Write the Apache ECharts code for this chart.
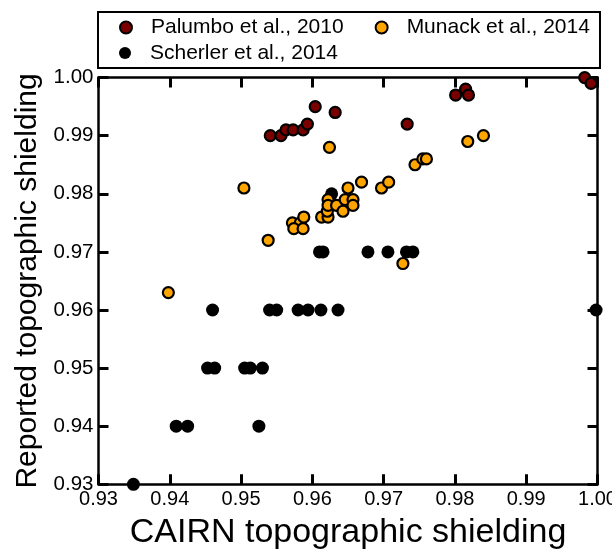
<!DOCTYPE html>
<html>
<head>
<meta charset="utf-8">
<script src="https://cdn.jsdelivr.net/npm/echarts@6/dist/echarts.min.js"></script>
<style>
html,body{margin:0;padding:0;background:#fff;}
#chart{width:612px;height:559px;}
</style>
</head>
<body>
<div id="chart"></div>
<script>
// ---- data ----
var seriesNames = ['Palumbo et al., 2010', 'Munack et al., 2014', 'Scherler et al., 2014'];

var palumbo = [[0.9541,0.990],[0.9556,0.990],[0.9563,0.991],[0.9573,0.991],[0.9587,0.991],[0.9593,0.992],
  [0.9604,0.995],[0.9632,0.994],[0.9733,0.992],[0.9801,0.997],[0.9815,0.998],[0.9819,0.997],
  [0.9982,1.000],[0.9991,0.999]];

var munack = [[0.9398,0.963],[0.9504,0.981],[0.9538,0.972],[0.9572,0.975],[0.9583,0.975],[0.9588,0.976],
  [0.9574,0.974],[0.9587,0.974],[0.9613,0.976],[0.9622,0.976],[0.9621,0.977],[0.9622,0.979],
  [0.9622,0.978],[0.9624,0.988],[0.9634,0.978],[0.9643,0.977],[0.9646,0.979],[0.9650,0.981],
  [0.9657,0.979],[0.9657,0.978],[0.9669,0.982],[0.9697,0.981],[0.9707,0.982],[0.9727,0.968],
  [0.9744,0.985],[0.9755,0.986],[0.9760,0.986],[0.9818,0.989],[0.9840,0.990]];

var scherler = [[0.9349,0.930],[0.9409,0.940],[0.9425,0.940],[0.9525,0.940],[0.9453,0.950],[0.9463,0.950],
  [0.9505,0.950],[0.9513,0.950],[0.9530,0.950],[0.9460,0.960],[0.9540,0.960],[0.9550,0.960],
  [0.9580,0.960],[0.9594,0.960],[0.9612,0.960],[0.9636,0.960],[0.9998,0.960],[0.9610,0.970],
  [0.9615,0.970],[0.9678,0.970],[0.9706,0.970],[0.9732,0.970],[0.9741,0.970],[0.9627,0.980]];

var axisMin = 0.93, axisMax = 1.00, axisStep = 0.01;
var xTitle = 'CAIRN topographic shielding';
var yTitle = 'Reported topographic shielding';

// ---- chart ----
var FONT = 'Liberation Sans';
var chart = echarts.init(document.getElementById('chart'));

function fmt(v) { return v.toFixed(2); }

function legendCfg(names, top, gap) {
  return {
    data: names, left: 119, top: top, orient: 'horizontal', padding: 0,
    itemWidth: 40, itemHeight: 12, itemGap: gap, icon: 'circle',
    textStyle: {fontFamily: FONT, fontSize: 21, color: '#000'}
  };
}

function axisCfg(extra) {
  var base = {
    type: 'value', min: axisMin, max: axisMax, interval: axisStep,
    axisLine: {show: true, lineStyle: {color: '#000', width: 2.5}},
    axisTick: {show: true, inside: true, length: 10, lineStyle: {color: '#000', width: 3}},
    splitLine: {show: false}
  };
  for (var k in extra) base[k] = extra[k];
  return base;
}

var option = {
  animation: false,
  grid: {left: 98.5, right: 14.5, top: 77.6, bottom: 74.7, outerBoundsMode: 'none'},
  legend: [
    legendCfg([seriesNames[0], seriesNames[1]], 17, 31),
    legendCfg([seriesNames[2]], 42.5, 31)
  ],
  graphic: [
    {type: 'rect', z: 40, silent: true, shape: {x: 98, y: 12, width: 502, height: 56},
      style: {fill: 'none', stroke: '#000', lineWidth: 2}}
  ],
  xAxis: [
    axisCfg({
      axisLabel: {formatter: fmt, margin: 5, fontFamily: FONT, fontSize: 20, color: '#000'},
      name: xTitle, nameLocation: 'middle', nameGap: 31,
      nameTextStyle: {fontFamily: FONT, fontSize: 34, color: '#000'}
    }),
    axisCfg({position: 'top', axisLabel: {show: false}})
  ],
  yAxis: [
    axisCfg({
      axisLabel: {formatter: fmt, margin: 5, fontFamily: FONT, fontSize: 20.5, color: '#000'},
      name: yTitle, nameLocation: 'middle', nameGap: 52, nameRotate: 90,
      nameTextStyle: {fontFamily: FONT, fontSize: 30, color: '#000'}
    }),
    axisCfg({position: 'right', axisLabel: {show: false}})
  ],
  series: [
    {name: seriesNames[2], type: 'scatter', data: scherler, symbolSize: 13,
     itemStyle: {color: '#000', borderWidth: 0, opacity: 1}},
    {name: seriesNames[1], type: 'scatter', data: munack, symbolSize: 11,
     itemStyle: {color: '#ffa500', borderColor: '#000', borderWidth: 2.2, opacity: 1}},
    {name: seriesNames[0], type: 'scatter', data: palumbo, symbolSize: 11,
     itemStyle: {color: '#7a0000', borderColor: '#000', borderWidth: 2.2, opacity: 1}}
  ]
};
chart.setOption(option);
</script>
</body>
</html>
